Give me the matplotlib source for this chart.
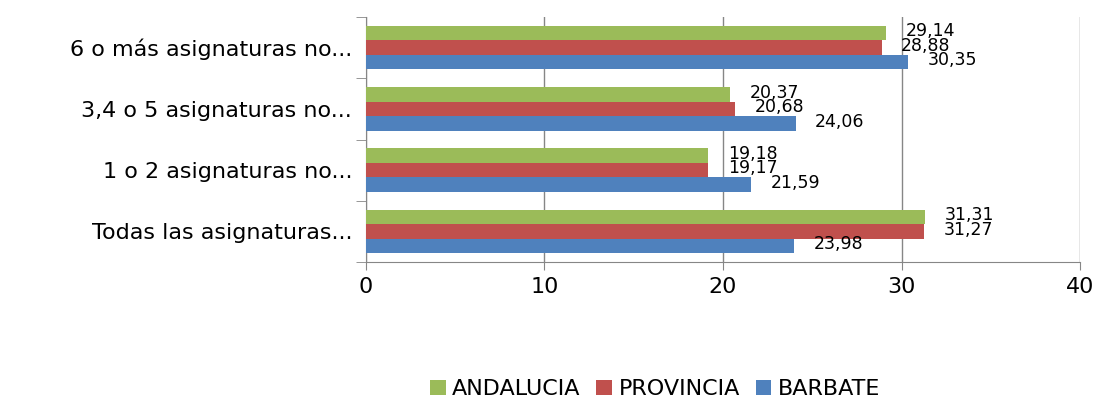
import matplotlib.pyplot as plt
import numpy as np

categorias = ["Todas las asignaturas...", "1 o 2 asignaturas no...",
              "3,4 o 5 asignaturas no...", "6 o más asignaturas no..."]
andalucia = [31.31, 19.18, 20.37, 29.14]
provincia = [31.27, 19.17, 20.68, 28.88]
barbate = [23.98, 21.59, 24.06, 30.35]

series = [("ANDALUCIA", andalucia, "#9BBB59"),
          ("PROVINCIA", provincia, "#C0504D"),
          ("BARBATE", barbate, "#4F81BD")]

plt.rcParams['font.family'] = ['DejaVu Sans']

fig = plt.figure(figsize=(11.01, 4.05), dpi=100)
ax = fig.add_axes([0.3324, 0.353, 0.6486, 0.605])

y = np.arange(len(categorias))
h = 0.237
offs = [h, 0, -h]
for (nombre, vals, color), off in zip(series, offs):
    ax.barh(y + off, vals, height=h, color=color, label=nombre, zorder=3)
    for yi, v in zip(y, vals):
        ax.text(v + 1.1, yi + off + 0.03, f"{v:.2f}".replace(".", ","),
                va="center", ha="left", fontsize=12.5, color="black", zorder=4)

ax.set_xlim(0, 40)
ax.set_ylim(-0.5, 3.5)
ax.set_xticks([0, 10, 20, 30, 40])
ax.set_xticklabels(["0", "10", "20", "30", "40"], fontsize=16)
ax.set_yticks(y)
ax.set_yticklabels(categorias, fontsize=16)
ax.set_yticks(np.arange(-0.5, 4.0, 1.0), minor=True)
ax.tick_params(axis="y", which="major", length=0, pad=10)
ax.tick_params(axis="y", which="minor", length=7, color="#868686")
ax.tick_params(axis="x", length=6, color="#868686", direction="out", pad=5)
ax.grid(axis="x", color="#868686", linewidth=1, zorder=0)
for s in ["top", "right"]:
    ax.spines[s].set_visible(False)
ax.spines["left"].set_color("#868686")
ax.spines["bottom"].set_color("#868686")

fig.legend(loc="lower center", bbox_to_anchor=(0.595, -0.035), ncol=3,
           frameon=False, fontsize=16, handlelength=0.7, handleheight=0.7,
           handletextpad=0.3, columnspacing=0.7)

fig.savefig("out.png", dpi=100)
